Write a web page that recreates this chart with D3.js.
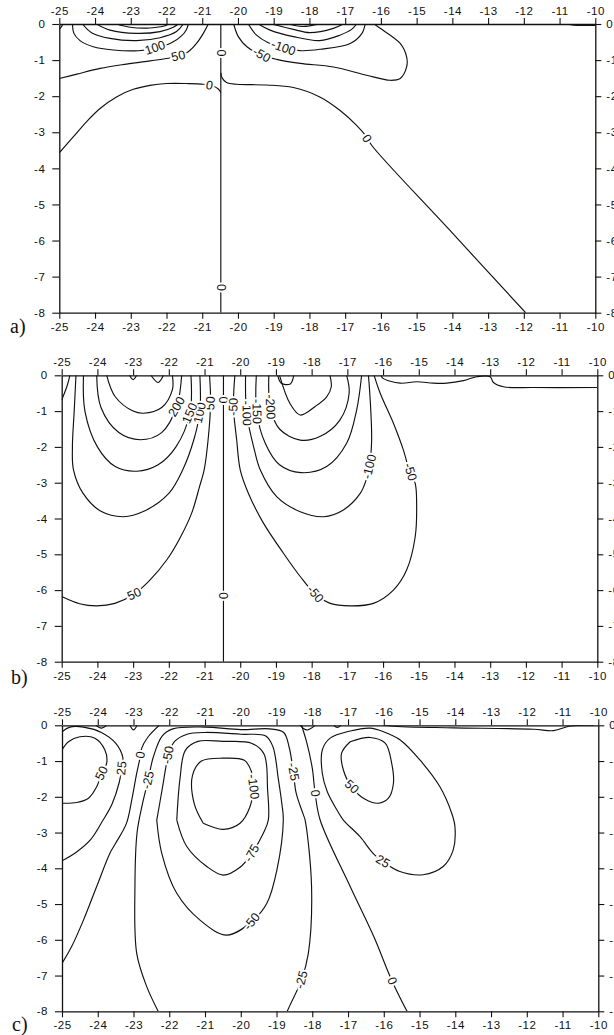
<!DOCTYPE html>
<html>
<head>
<meta charset="utf-8">
<script src="https://cdn.jsdelivr.net/npm/d3@7"></script>
<style>
  body { margin: 0; background: #fff; }
  svg { display: block; }
</style>
</head>
<body>
<svg id="chart" width="614" height="1035"></svg>
<script>
// ---- axes ----
const xTicks = [-25, -24, -23, -22, -21, -20, -19, -18, -17, -16, -15, -14, -13, -12, -11, -10];
const yTicks = [0, -1, -2, -3, -4, -5, -6, -7, -8];
const panelNames = ["a)", "b)", "c)"];

// ---- panel a: contour lines [x, depth] ----
const contoursA = [
  { level: 0, pts: [[-20.48, 0], [-20.48, -8]], labelAt: [[-20.48, -0.8], [-20.48, -7.3]] },
  { level: 0, pts: [[-25, -3.57], [-24.61, -3.13], [-24.24, -2.71], [-23.86, -2.34], [-23.40, -2.02], [-22.93, -1.81], [-22.46, -1.70], [-22.00, -1.65], [-21.44, -1.65], [-20.97, -1.67], [-20.7, -1.72], [-20.55, -1.8], [-20.48, -1.9]], labelAt: [[-20.80, -1.70]] },
  { level: 0, pts: [[-20.48, -1.35], [-20.44, -1.5], [-20.32, -1.62], [-20.04, -1.67], [-19.20, -1.69], [-18.45, -1.76], [-17.71, -2.02], [-17.15, -2.39], [-16.68, -2.81], [-16.40, -3.13], [-16.26, -3.36], [-14.105, -5.68], [-11.95, -8]], labelAt: [[-16.40, -3.18]] },
  { level: 0, pts: [[-10.8, 0], [-10.6, -0.03], [-10, -0.04]], labelAt: [] },
  { level: 0, pts: [[-25, -0.15], [-24.93, -0.06], [-24.9, 0]], labelAt: [] },
  { level: 50, pts: [[-25, -1.51], [-24.51, -1.39], [-23.86, -1.23], [-23.12, -1.11], [-22.46, -1.02], [-21.95, -0.95], [-21.67, -0.89], [-21.39, -0.77], [-21.16, -0.54], [-20.97, -0.26], [-20.83, 0]], labelAt: [[-21.67, -0.89]] },
  { level: 100, pts: [[-24.63, 0], [-24.59, -0.26], [-24.42, -0.46], [-24.05, -0.63], [-23.49, -0.72], [-22.79, -0.74], [-22.32, -0.67], [-21.86, -0.52], [-21.58, -0.33], [-21.44, -0.15], [-21.39, 0]], labelAt: [[-22.32, -0.66]] },
  { level: 150, pts: [[-24.35, 0], [-24.10, -0.24], [-23.58, -0.40], [-22.84, -0.46], [-22.18, -0.38], [-21.72, -0.21], [-21.53, 0]], labelAt: [] },
  { level: 200, pts: [[-23.96, 0], [-23.58, -0.17], [-22.84, -0.26], [-22.18, -0.21], [-21.81, -0.09], [-21.67, 0]], labelAt: [] },
  { level: 250, pts: [[-23.40, 0], [-23.02, -0.09], [-22.46, -0.11], [-22.04, -0.05], [-21.95, 0]], labelAt: [] },
  { level: -50, pts: [[-20.12, 0], [-19.99, -0.35], [-19.75, -0.63], [-19.34, -0.86], [-18.92, -0.98], [-18.26, -1.09], [-17.33, -1.19], [-16.40, -1.42], [-15.74, -1.56], [-15.46, -1.51], [-15.28, -1.19], [-15.28, -0.91], [-15.46, -0.54], [-16.02, -0.12], [-16.19, 0]], labelAt: [[-19.34, -0.86]] },
  { level: -100, pts: [[-19.71, 0], [-19.48, -0.31], [-19.15, -0.52], [-18.73, -0.66], [-18.22, -0.74], [-17.70, -0.70], [-16.86, -0.54], [-16.53, -0.26], [-16.44, 0]], labelAt: [[-18.73, -0.66]] },
  { level: -150, pts: [[-19.43, 0], [-19.10, -0.17], [-18.45, -0.35], [-17.71, -0.46], [-17.15, -0.31], [-16.82, -0.15], [-16.68, 0]], labelAt: [] },
  { level: -200, pts: [[-19.06, 0], [-18.45, -0.15], [-17.99, -0.24], [-17.33, -0.12], [-17.05, 0]], labelAt: [] },
  { level: -250, pts: [[-18.59, 0], [-18.2, -0.07], [-17.71, 0]], labelAt: [] }
];

// ---- panel b ----
const contoursB = [
  { level: 0, pts: [[-20.47, 0], [-20.47, -8]], labelAt: [[-20.49, -0.69], [-20.47, -6.16]] },
  { level: 0, pts: [[-16.05, 0], [-16.01, -0.08], [-15.52, -0.22], [-15.06, -0.18], [-14.59, -0.22], [-14.22, -0.22], [-13.75, -0.15], [-13.38, -0.04], [-13.0, -0.04], [-12.91, -0.20], [-12.63, -0.32], [-11.79, -0.34], [-10.0, -0.34]], labelAt: [] },
  { level: 0, pts: [[-23.1, 0], [-23.0, -0.12], [-22.9, 0]], labelAt: [] },
  { level: 0, pts: [[-22.5, 0], [-22.3, -0.2], [-22.15, 0]], labelAt: [] },
  { level: 0, pts: [[-18.95, 0], [-18.85, -0.22], [-18.6, -0.24], [-18.5, 0]], labelAt: [] },
  { level: 50, pts: [[-25, -6.18], [-24.5, -6.38], [-24.02, -6.44], [-23.51, -6.37], [-22.97, -6.11], [-22.53, -5.72], [-22.06, -5.16], [-21.69, -4.55], [-21.36, -3.85], [-21.14, -3.11], [-21.01, -2.64], [-20.9, -1.8], [-20.83, -0.78], [-20.86, 0]], labelAt: [[-22.97, -6.11], [-20.83, -0.78]] },
  { level: 50, pts: [[-24.77, 0], [-24.85, -0.3], [-25, -0.69]], labelAt: [] },
  { level: 100, pts: [[-24.6, 0], [-24.65, -1], [-24.7, -2], [-24.67, -2.64], [-24.4, -3.3], [-23.9, -3.8], [-23.27, -3.95], [-22.7, -3.8], [-22.0, -3.3], [-21.61, -2.64], [-21.3, -1.8], [-21.13, -1.01], [-21.13, 0]], labelAt: [[-21.13, -1.05]] },
  { level: 150, pts: [[-24.39, 0], [-24.35, -1], [-24.0, -2.0], [-23.5, -2.55], [-22.9, -2.68], [-22.3, -2.5], [-21.8, -2.0], [-21.41, -1.06], [-21.38, 0]], labelAt: [[-21.41, -1.06]] },
  { level: 200, pts: [[-24.02, 0], [-23.9, -0.9], [-23.4, -1.6], [-22.8, -1.8], [-22.2, -1.6], [-21.78, -0.88], [-21.64, 0]], labelAt: [[-21.78, -0.88]] },
  { level: 250, pts: [[-23.74, 0], [-23.5, -0.6], [-23.0, -1.0], [-22.71, -1.06], [-22.2, -0.9], [-21.9, -0.4], [-21.9, 0]], labelAt: [] },
  { level: -50, pts: [[-20.15, 0], [-20.19, -0.88], [-20.1, -1.8], [-20.0, -2.64], [-19.77, -3.3], [-19.35, -4.13], [-18.79, -4.97], [-18.32, -5.62], [-17.90, -6.11], [-17.48, -6.37], [-16.92, -6.44], [-16.27, -6.37], [-15.71, -6.0], [-15.34, -5.44], [-15.10, -4.51], [-15.06, -3.58], [-15.10, -3.02], [-15.24, -2.74], [-15.43, -2.09], [-15.71, -1.34], [-16.08, -0.5], [-16.25, 0]], labelAt: [[-20.19, -0.88], [-17.90, -6.11], [-15.24, -2.70]] },
  { level: -100, pts: [[-19.85, 0], [-19.82, -1.06], [-19.6, -2.1], [-19.44, -2.64], [-18.98, -3.39], [-18.32, -3.81], [-17.67, -3.95], [-17.11, -3.76], [-16.64, -3.30], [-16.46, -2.88], [-16.38, -2.55], [-16.32, -1.81], [-16.36, -0.69], [-16.41, 0]], labelAt: [[-19.82, -1.06], [-16.38, -2.55]] },
  { level: -150, pts: [[-19.55, 0], [-19.54, -1.01], [-19.3, -1.9], [-18.9, -2.5], [-18.3, -2.72], [-17.58, -2.55], [-17.02, -1.90], [-16.74, -0.97], [-16.60, 0]], labelAt: [[-19.54, -1.01]] },
  { level: -200, pts: [[-19.2, 0], [-19.16, -0.88], [-18.9, -1.5], [-18.32, -1.81], [-17.77, -1.71], [-17.21, -1.25], [-16.95, -0.5], [-17.02, 0]], labelAt: [[-19.16, -0.88]] },
  { level: -250, pts: [[-18.9, 0], [-18.6, -0.8], [-18.32, -1.11], [-17.90, -0.87], [-17.58, -0.6], [-17.45, -0.32], [-17.49, 0]], labelAt: [] }
];

// ---- panel c ----
const contoursC = [
  { level: 50, pts: [[-25, -0.69], [-24.82, -0.46], [-24.50, -0.32], [-24.08, -0.36], [-23.80, -0.69], [-23.75, -1.06], [-23.89, -1.34], [-24.03, -1.72], [-24.26, -2.04], [-24.59, -2.16], [-25, -2.18]], labelAt: [[-23.89, -1.34]] },
  { level: 25, pts: [[-25, -0.18], [-24.78, -0.05], [-24.40, -0.05], [-23.9, -0.2], [-23.5, -0.5], [-23.3, -0.9], [-23.33, -1.2], [-23.4, -1.6], [-23.6, -2.2], [-23.85, -2.65], [-24.2, -3.2], [-24.6, -3.55], [-25, -3.79]], labelAt: [[-23.33, -1.2]] },
  { level: 0, pts: [[-22.28, 0], [-22.59, -0.32], [-22.77, -0.64], [-22.80, -0.83], [-22.91, -1.34], [-23.05, -2.09], [-23.2, -2.75], [-23.5, -3.3], [-23.66, -3.58], [-24.03, -4.51], [-24.40, -5.45], [-24.73, -6.19], [-25, -6.66]], labelAt: [[-22.80, -0.83]] },
  { level: 0, pts: [[-18.3, 0], [-18.15, -0.5], [-18.0, -1.2], [-17.92, -1.9], [-17.78, -2.65], [-16.94, -4.51], [-16.28, -5.91], [-15.77, -7.15], [-15.35, -8]], labelAt: [[-17.92, -1.90], [-15.77, -7.15]] },
  { level: 0, pts: [[-16.01, 0], [-15.5, -0.04], [-14.05, -0.07], [-11.81, -0.11], [-11.25, -0.15], [-10.78, -0.02], [-10.13, 0]], labelAt: [] },
  { level: 0, pts: [[-23.1, 0], [-23.0, -0.13], [-22.9, 0]], labelAt: [] },
  { level: 0, pts: [[-24.05, 0], [-23.9, -0.08], [-23.75, 0]], labelAt: [] },
  { level: 0, pts: [[-18.34, 0], [-18.15, -0.13], [-17.92, 0]], labelAt: [] },
  { level: 0, pts: [[-17.4, 0], [-17.3, -0.06], [-17.2, 0]], labelAt: [] },
  { level: -25, pts: [[-22.31, -8], [-22.63, -7.31], [-22.91, -6.38], [-22.96, -4.51], [-22.9, -3.0], [-22.75, -2.2], [-22.59, -1.53], [-22.45, -0.9], [-22.2, -0.3], [-21.9, -0.1], [-21.0, -0.05], [-20.0, -0.12], [-19.2, -0.1], [-18.8, -0.2], [-18.65, -0.6], [-18.53, -1.30], [-18.45, -1.9], [-18.25, -2.5], [-18.20, -2.65], [-18.02, -4.51], [-18.11, -6.38], [-18.30, -7.12], [-18.62, -7.82], [-18.70, -8]], labelAt: [[-22.59, -1.53], [-18.53, -1.30], [-18.30, -7.12]] },
  { level: -50, pts: [[-22.35, -2.65], [-22.2, -1.8], [-22.1, -1.2], [-22.03, -0.83], [-21.85, -0.45], [-21.5, -0.25], [-21.0, -0.2], [-20.0, -0.25], [-19.3, -0.3], [-19.1, -0.6], [-18.95, -1.5], [-18.85, -2.2], [-18.81, -2.65], [-18.99, -4.05], [-19.27, -4.98], [-19.69, -5.49], [-20.39, -5.87], [-21.14, -5.45], [-21.79, -4.70], [-22.21, -3.58], [-22.35, -2.65]], labelAt: [[-22.03, -0.83], [-19.69, -5.49]] },
  { level: -75, pts: [[-21.79, -2.65], [-21.7, -1.5], [-21.55, -0.7], [-21.2, -0.45], [-20.5, -0.45], [-19.7, -0.5], [-19.35, -0.8], [-19.25, -1.8], [-19.23, -2.65], [-19.37, -3.02], [-19.69, -3.58], [-20.02, -3.97], [-20.49, -4.19], [-20.95, -3.95], [-21.51, -3.39], [-21.79, -2.65]], labelAt: [[-19.69, -3.58]] },
  { level: -100, pts: [[-21.05, -2.74], [-21.3, -2.2], [-21.35, -1.4], [-21.1, -1.0], [-20.5, -0.92], [-19.9, -0.98], [-19.7, -1.3], [-19.65, -1.72], [-19.75, -2.3], [-20.02, -2.74], [-20.49, -2.91], [-21.05, -2.74]], labelAt: [[-19.65, -1.72]] },
  { level: 50, pts: [[-16.94, -0.46], [-16.38, -0.34], [-15.96, -0.50], [-15.78, -1.06], [-15.73, -1.62], [-15.87, -2.04], [-16.15, -2.18], [-16.52, -2.07], [-16.90, -1.72], [-17.13, -1.25], [-17.18, -0.78], [-16.94, -0.46]], labelAt: [[-16.90, -1.72]] },
  { level: 25, pts: [[-16.03, -3.81], [-15.55, -4.09], [-14.90, -4.18], [-14.34, -3.95], [-14.06, -3.49], [-14.01, -2.83], [-14.10, -2.46], [-14.43, -1.72], [-14.99, -0.97], [-15.54, -0.41], [-16.01, -0.18], [-16.38, -0.08], [-16.94, -0.16], [-17.50, -0.36], [-17.72, -0.69], [-17.72, -1.34], [-17.58, -1.86], [-17.31, -2.37], [-17.13, -2.65], [-16.67, -3.11], [-16.30, -3.58], [-16.03, -3.81]], labelAt: [[-16.03, -3.81]] }
];

// ---- layout (pixel frame of each panel) ----
const frames = [
  { left: 59.3, right: 595.3, top: 24, bottom: 312.7, tag: [10, 333] },
  { left: 61.7, right: 597.3, top: 375.3, bottom: 661.7, tag: [11, 684] },
  { left: 62, right: 598.3, top: 725.3, bottom: 1011.3, tag: [12, 1031] }
];
const panelData = [contoursA, contoursB, contoursC];

const svg = d3.select("#chart");
const fmt = d => String(d);
const font = "'Liberation Sans', Arial, Helvetica, sans-serif";

panelData.forEach((contours, i) => {
  const f = frames[i];
  const x = d3.scaleLinear().domain([-25, -10]).range([f.left, f.right]);
  const y = d3.scaleLinear().domain([0, -8]).range([f.top, f.bottom]);
  const g = svg.append("g");

  const clipId = "clip" + i;
  svg.append("clipPath").attr("id", clipId)
    .append("rect").attr("x", f.left).attr("y", f.top)
    .attr("width", f.right - f.left).attr("height", f.bottom - f.top);

  const line = d3.line().x(d => x(d[0])).y(d => y(d[1])).curve(d3.curveCatmullRom.alpha(0.5));

  const lines = g.append("g").attr("clip-path", `url(#${clipId})`);
  lines.selectAll("path").data(contours).join("path")
    .attr("d", d => line(d.pts))
    .attr("fill", "none")
    .attr("stroke", "#111")
    .attr("stroke-width", 1.15);

  // labels, oriented along the nearest segment of their line
  const labs = [];
  contours.forEach(c => {
    c.labelAt.forEach(p => {
      const px = x(p[0]), py = y(p[1]);
      let best = null, bd = Infinity;
      for (let k = 0; k < c.pts.length - 1; k++) {
        const ax = x(c.pts[k][0]), ay = y(c.pts[k][1]);
        const bx = x(c.pts[k + 1][0]), by = y(c.pts[k + 1][1]);
        const dx = bx - ax, dy = by - ay;
        const t = Math.max(0, Math.min(1, ((px - ax) * dx + (py - ay) * dy) / (dx * dx + dy * dy)));
        const qx = ax + t * dx - px, qy = ay + t * dy - py;
        const dd = qx * qx + qy * qy;
        if (dd < bd) { bd = dd; best = [dx, dy]; }
      }
      let ang = Math.atan2(best[1], best[0]) * 180 / Math.PI;
      if (ang > 90) ang -= 180;
      if (ang <= -90) ang += 180;
      labs.push({ text: fmt(c.level), px, py, ang });
    });
  });
  g.append("g").selectAll("text").data(labs).join("text")
    .attr("transform", d => `translate(${d.px},${d.py}) rotate(${d.ang})`)
    .attr("text-anchor", "middle")
    .attr("dominant-baseline", "central")
    .attr("font-family", font)
    .attr("font-size", 12.5)
    .attr("fill", "#111")
    .attr("stroke", "#fff")
    .attr("stroke-width", 4)
    .attr("paint-order", "stroke")
    .text(d => d.text);

  // axes on all four sides
  const axes = [
    [d3.axisTop(x).tickValues(xTicks).tickSize(6).tickPadding(3), `translate(0,${f.top})`],
    [d3.axisBottom(x).tickValues(xTicks).tickSize(6).tickPadding(4), `translate(0,${f.bottom})`],
    [d3.axisLeft(y).tickValues(yTicks).tickSize(7).tickPadding(7), `translate(${f.left},0)`],
    [d3.axisRight(y).tickValues(yTicks).tickSize(6).tickPadding(5), `translate(${f.right},0)`]
  ];
  axes.forEach(([ax, tr]) => {
    const a = g.append("g").attr("transform", tr)
      .call(ax.tickFormat(fmt).tickSizeOuter(0));
    a.select(".domain").attr("stroke", "#111").attr("stroke-width", 1.3);
    a.selectAll(".tick line").attr("stroke", "#111").attr("stroke-width", 1.1);
    a.selectAll(".tick text").attr("font-family", font).attr("font-size", 11.5)
      .attr("letter-spacing", 0.5).attr("fill", "#111");
  });

  svg.append("text")
    .attr("x", f.tag[0]).attr("y", f.tag[1])
    .attr("font-family", "'Liberation Serif', 'Times New Roman', serif")
    .attr("font-size", 20)
    .attr("fill", "#111")
    .text(panelNames[i]);
});
</script>
</body>
</html>
